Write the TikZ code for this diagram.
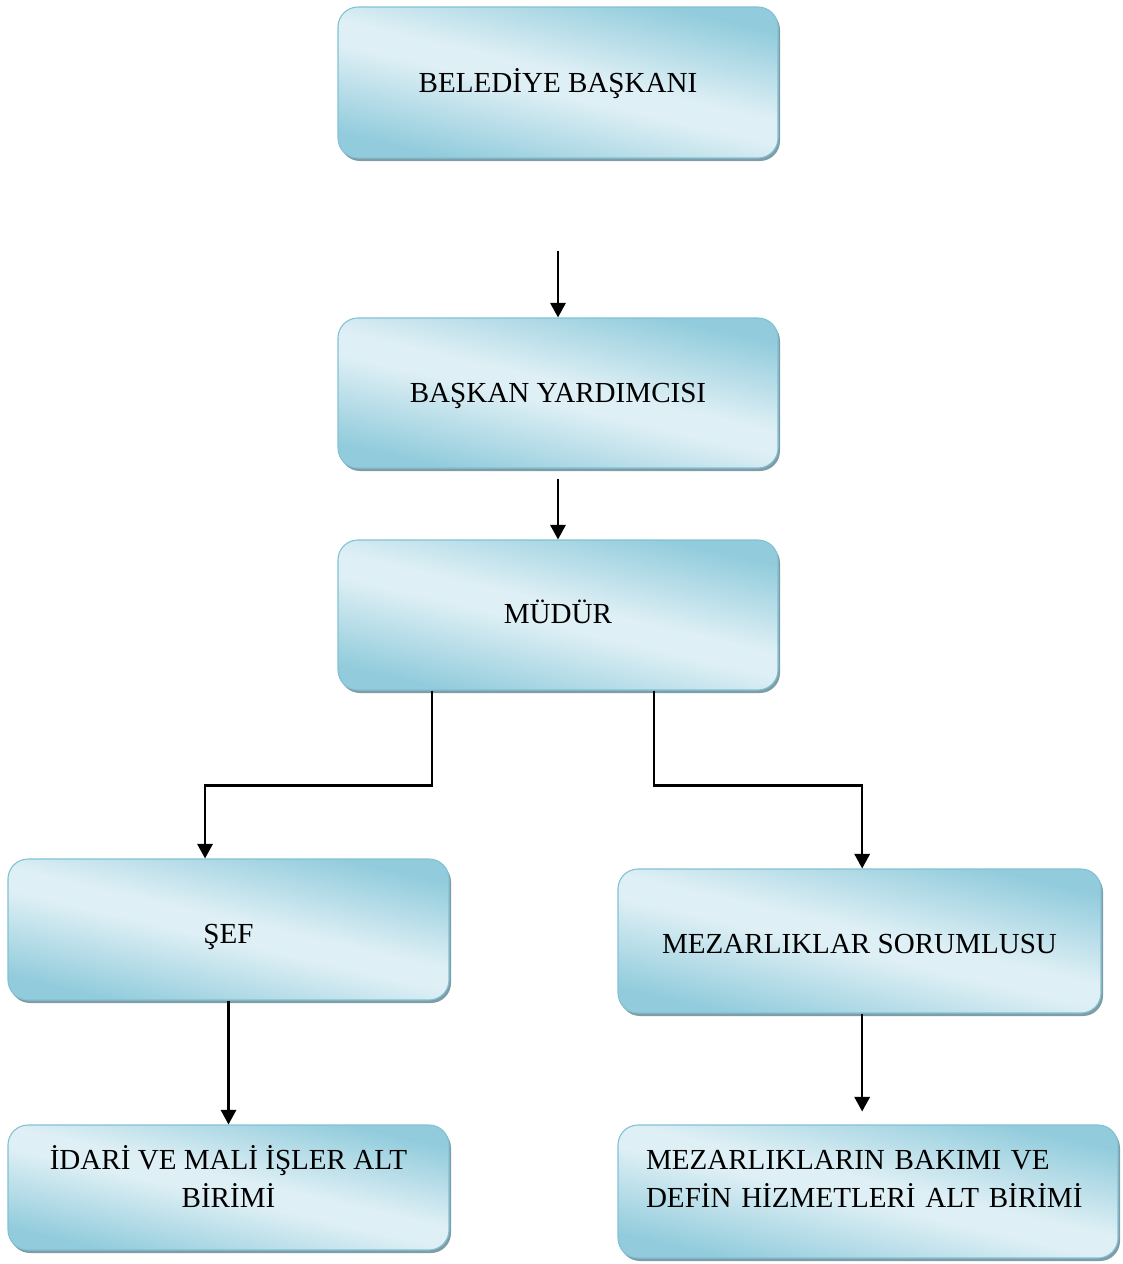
\documentclass[tikz,border=0pt]{standalone}
\usepackage{fontspec}
\setmainfont{Liberation Serif}
\usetikzlibrary{arrows.meta,shadows}

\definecolor{bdark}{RGB}{146,204,220}
\definecolor{blight}{RGB}{222,239,245}
\definecolor{bedge}{RGB}{128,194,212}
\definecolor{bshadow}{RGB}{128,156,166}

% diagonal "reflected" blue gradient for the boxes
\pgfdeclarehorizontalshading{boxfill}{100bp}{%
  color(0bp)=(bdark); color(26bp)=(bdark); color(47bp)=(blight);
  color(53bp)=(blight); color(74bp)=(bdark); color(100bp)=(bdark)}

\tikzset{
  orgbox/.style={draw=bedge, line width=0.8pt, rounded corners=15pt,
    shading=boxfill, shading angle=77,
    drop shadow={shadow xshift=1.5pt, shadow yshift=-2.25pt,
      fill=bshadow, opacity=1},
    font=\fontsize{21.8pt}{28.5pt}\selectfont, text=black,
    inner sep=0pt, text height=14.4pt, text depth=0pt},
  link/.style={draw=black, line width=1.8pt,
    -{Triangle[width=11.5pt,length=11pt]}},
}

\begin{document}
\begin{tikzpicture}[x=0.75pt,y=-0.75pt]
\useasboundingbox (0,0) rectangle (1122,1264);

% boxes
\node[orgbox, minimum width=330pt, minimum height=113.25pt] (baskan) at (558,82.5) {BELEDİYE BAŞKANI};
\node[orgbox, minimum width=330pt, minimum height=112.5pt] (yardimci) at (558,393) {BAŞKAN YARDIMCISI};
\node[orgbox, minimum width=330pt, minimum height=112.5pt, text depth=1pt] (mudur) at (558,615) {MÜDÜR};
\node[orgbox, minimum width=330.75pt, minimum height=105.75pt, text height=21pt] (sef) at (228.5,929.5) {ŞEF};
\node[orgbox, minimum width=362.25pt, minimum height=108pt, text height=18pt] (sorumlu) at (859.5,941) {MEZARLIKLAR SORUMLUSU};
\node[orgbox, minimum width=330.75pt, minimum height=93.75pt, align=center,
  text height=42.9pt, text depth=12.7pt]
  (idari) at (228.5,1187.5) {İDARİ VE MALİ İŞLER ALT\\BİRİMİ};
\node[orgbox, minimum width=375pt, minimum height=99.75pt, inner xsep=21pt,
  text width=333pt, align=left, text height=14.4pt, text depth=47.2pt]
  (bakim) at (868,1191.5) {MEZARLIKLARIN BAKIMI VE\\DEFİN HİZMETLERİ ALT BİRİMİ};

% connectors
\draw[link, shorten <=69pt] (baskan.south) -- (yardimci.north);
\draw[link, shorten <=7.5pt] (yardimci.south) -- (mudur.north);
\draw[link] ([xshift=-94.5pt]mudur.south) -- ++(0,95) -| ([xshift=-17.6pt]sef.north);
\draw[link] ([xshift=72pt]mudur.south) -- ++(0,95) -| ([xshift=2pt]sorumlu.north);
\draw[link] (sef.south) -- (sef.south |- idari.north);
\draw[link, shorten >=9.75pt] ([xshift=2pt]sorumlu.south) -- ([xshift=2pt]sorumlu.south |- bakim.north);
\end{tikzpicture}
\end{document}
